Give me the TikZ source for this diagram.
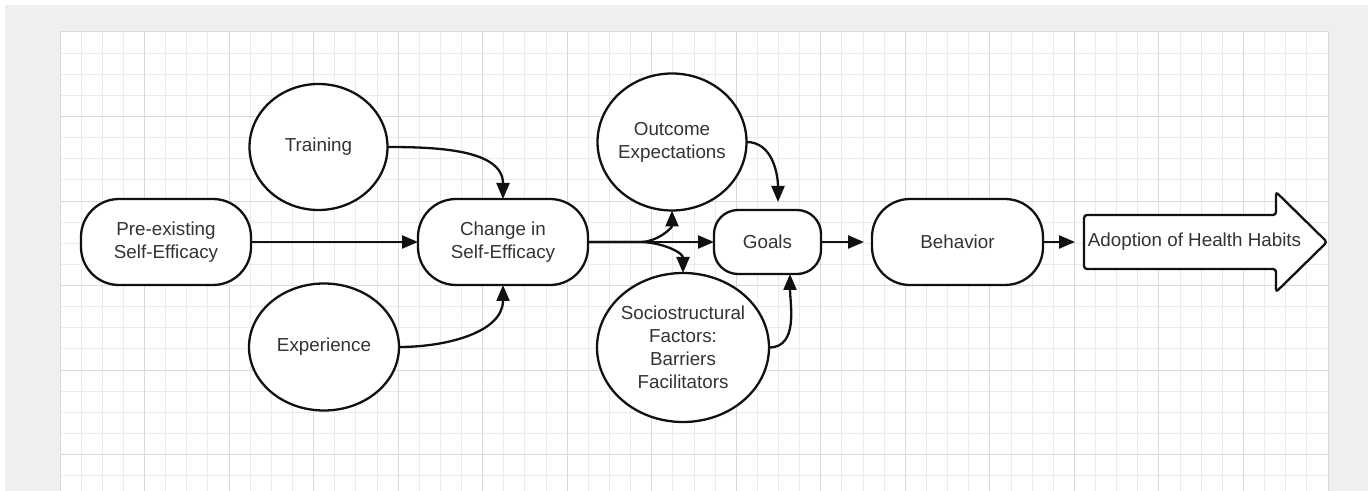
\documentclass[tikz,border=0pt]{standalone}
\usepackage{fontspec}
\setmainfont{Liberation Sans}
\usetikzlibrary{arrows.meta,shapes.geometric,calc}
\definecolor{bggray}{HTML}{EFEFEF}
\definecolor{gridminor}{HTML}{EBEBEB}
\definecolor{gridmajor}{HTML}{DADADA}
\definecolor{txtcol}{HTML}{333333}
\definecolor{edgecol}{HTML}{111111}
\begin{document}
\begin{tikzpicture}[x=0.5pt,y=-0.5pt,
  every node/.style={font=\fontsize{9.4pt}{11.5pt}\selectfont, text=txtcol},
  roundbox/.style={draw=edgecol, line width=1.15pt, fill=white, rounded corners=19pt, inner sep=0pt, outer sep=0pt, align=center, minimum width=85pt, minimum height=43pt},
  ovalbox/.style={draw=edgecol, line width=1.15pt, fill=white, ellipse, inner sep=0pt, outer sep=0pt},
  lbl/.style={align=center, inner sep=0pt},
  conn/.style={draw=edgecol, line width=1.15pt, -{Triangle[length=8pt,width=6.5pt]}},
  gridmin/.style={draw=gridminor, line width=0.5pt},
  gridmaj/.style={draw=gridmajor, line width=0.5pt}]
\useasboundingbox (0,0) rectangle (1368,491);
\fill[white] (0,0) rectangle (1368,491);
\fill[bggray] (5,5) rectangle (1368,491);
\fill[white] (60,32) rectangle (1328,491);
% grid
\foreach \k in {0,...,60} {
  \pgfmathsetmacro\xx{60+\k*21.133}
  \draw[gridmin] (\xx,32) -- (\xx,491);
}
\foreach \k in {0,...,21} {
  \pgfmathsetmacro\yy{32+\k*21.133}
  \draw[gridmin] (60,\yy) -- (1328,\yy);
}
\foreach \k in {0,4,...,60} {
  \pgfmathsetmacro\xx{60+\k*21.133}
  \draw[gridmaj] (\xx,32) -- (\xx,491);
}
\foreach \k in {0,4,...,20} {
  \pgfmathsetmacro\yy{32+\k*21.133}
  \draw[gridmaj] (60,\yy) -- (1328,\yy);
}
% nodes
\node[roundbox] (pre) at (166,242) {Pre-existing\\Self-Efficacy};
\node[roundbox] (change) at (503,242) {Change in\\Self-Efficacy};
\node[roundbox, minimum width=85.5pt] (beh) at (957.5,242) {Behavior};
\node[roundbox, rounded corners=12pt, minimum width=53.5pt, minimum height=32pt] (goals) at (767.5,242) {Goals};
\node[ovalbox, minimum width=69pt, minimum height=63pt] (train) at (318.5,147) {};
\node[lbl] (trainT) at (train.center) {Training};
\node[ovalbox, minimum width=75pt, minimum height=63.5pt] (exper) at (324,347) {};
\node[lbl] (experT) at (exper.center) {Experience};
\node[ovalbox, minimum width=74.5pt, minimum height=68.5pt] (outc) at (672,142) {};
\node[lbl] (outcT) at (outc.center) {Outcome\\Expectations};
\node[ovalbox, minimum width=86pt, minimum height=74.5pt] (socio) at (683,347.5) {};
\node[lbl] (socioT) at (socio.center) {Sociostructural\\Factors:\\Barriers\\Facilitators};
% big arrow
\draw[draw=edgecol, line width=1.15pt, fill=white, rounded corners=1.5pt]
  (1084,215) -- (1276,215) -- (1276,192) -- (1327,242) -- (1276,292) -- (1276,269) -- (1084,269) -- cycle;
\node[lbl] (adopt) at (1194.5,242) {Adoption of Health Habits};
% helper coordinates
\coordinate (split) at (640,242);
\coordinate (goalsTopIn) at ($(goals.north)+(10.5,-8)$);
\coordinate (goalsBotIn) at ($(goals.south)+(22.5,0)$);
\coordinate (behIn) at ($(beh.west)+(-8,0)$);
\coordinate (adoptIn) at (1075,242);
% connectors
\draw[conn] (pre.east) -- (change.west);
\draw[conn] (train.east) to[out=0,in=90] (change.north);
\draw[conn] (exper.east) to[out=0,in=-90] (change.south);
\draw[conn] (change.east) -- (goals.west);
\draw[conn] (change.east) -- (split) to[out=0,in=-90] (outc.south);
\draw[conn] (change.east) -- (split) to[out=0,in=90] (socio.north);
\draw[conn] (outc.east) to[out=0,in=90] (goalsTopIn);
\draw[conn] (socio.east) to[out=0,in=-90] (goalsBotIn);
\draw[conn] (goals.east) -- (behIn);
\draw[conn] (beh.east) -- (adoptIn);
\end{tikzpicture}
\end{document}
